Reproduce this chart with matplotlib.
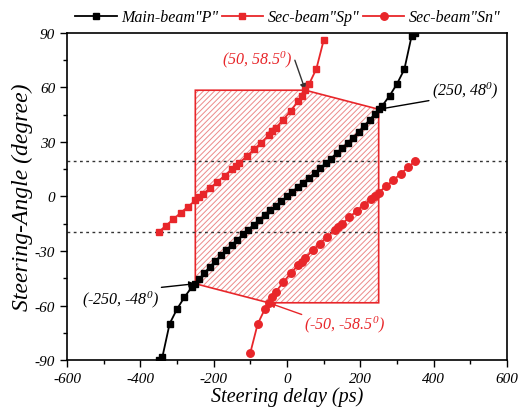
import matplotlib
matplotlib.use("Agg")
import matplotlib.pyplot as plt
from matplotlib.patches import Polygon

plt.rcParams['font.family'] = ['Liberation Serif', 'DejaVu Serif']
plt.rcParams['font.style'] = 'italic'
plt.rcParams['mathtext.fontset'] = 'custom'
plt.rcParams['mathtext.rm'] = 'Liberation Serif:italic'
plt.rcParams['mathtext.it'] = 'Liberation Serif:italic'
plt.rcParams['axes.unicode_minus'] = False
plt.rcParams['hatch.linewidth'] = 0.7

RED = '#e8262a'

# main beam "P"  (steering delay ps, steering angle deg)
p_delay = [-350, -340, -320, -300, -280, -260, -250, -240, -225, -210, -195, -180,
           -165, -150, -135, -120, -105, -90, -75, -60, -45, -30, -15, 0,
           15, 30, 45, 60, 75, 90, 105, 120, 135, 150, 165, 180, 195, 210, 225,
           240, 250, 260, 280, 300, 320, 340, 350]
p_angle = [-90, -88.5, -70, -62, -55.5, -50, -48, -45.6, -42.0, -38.7, -35.5, -32.4,
           -29.4, -26.5, -23.7, -20.9, -18.2, -15.5, -12.9, -10.3, -7.7, -5.1, -2.6, 0,
           2.6, 5.1, 7.7, 10.3, 12.9, 15.5, 18.2, 20.9, 23.7, 26.5, 29.4, 32.4, 35.5, 38.7, 42.0,
           45.6, 48, 50, 55.5, 62, 70, 88.5, 90]

# secondary beam "Sp"
sp_delay = [-350, -330, -310, -290, -270, -250, -240, -230, -210, -190, -170, -150,
            -140, -130, -110, -90, -70, -50, -40, -30, -10, 10, 30, 40, 50, 60, 80, 100]
sp_angle = [-19.6, -16.0, -12.5, -9.0, -5.6, -2.2, -0.5, 1.2, 4.6, 8.0, 11.5, 15.0,
            16.7, 18.5, 22.1, 25.9, 29.7, 33.7, 35.8, 37.9, 42.3, 47.1, 52.4, 55.3, 58.5, 61.8, 70.2, 86]

# secondary beam "Sn"
sn_delay = [-100, -80, -60, -50, -40, -30, -10, 10, 30, 40, 50, 70, 90, 110,
            130, 140, 150, 170, 190, 210, 230, 240, 250, 270, 290, 310, 330, 350]
sn_angle = [-86, -70.2, -61.8, -58.5, -55.3, -52.4, -47.1, -42.3, -37.9, -35.8, -33.7, -29.7, -25.9, -22.1,
            -18.5, -16.7, -15.0, -11.5, -8.0, -4.6, -1.2, 0.5, 2.2, 5.6, 9.0, 12.5, 16.0, 19.6]

# scan region corners
region_delay = [-250, 50, 250, 250, -50, -250]
region_angle = [58.5, 58.5, 48, -58.5, -58.5, -48]
limit_angle = 19.5

fig = plt.figure(figsize=(5.18, 4.14), dpi=100)
ax = fig.add_axes([0.1293, 0.128, 0.8495, 0.7899])

pts = list(zip(region_delay, region_angle))
ax.add_patch(Polygon(pts, closed=True, fill=False, hatch='//////', edgecolor='#ec8a8a',
                     linewidth=0, zorder=1))
ax.add_patch(Polygon(pts, closed=True, fill=False, edgecolor=RED, linewidth=1.2, zorder=2))

ax.axhline(limit_angle, color='#333333', linestyle=(0, (2, 2.5)), linewidth=1.0, zorder=2)
ax.axhline(-limit_angle, color='#333333', linestyle=(0, (2, 2.5)), linewidth=1.0, zorder=2)

ax.plot(p_delay, p_angle, color='black', marker='s', markersize=4.8, linewidth=1.3,
        label='Main-beam"P"', zorder=4)
ax.plot(sp_delay, sp_angle, color=RED, marker='s', markersize=4.8, linewidth=1.3,
        label='Sec-beam"Sp"', zorder=4)
ax.plot(sn_delay, sn_angle, color=RED, marker='o', markersize=5.4, linewidth=1.3,
        label='Sec-beam"Sn"', zorder=4)

ann = dict(fontsize=11.5)
ax.annotate(r'(50, 58.5$^{0}$)', xy=(50, 58.5), xytext=(-82, 76), color=RED, ha='center',
            va='center', arrowprops=dict(arrowstyle='-|>', color='#333333', lw=1.0,
                                         shrinkA=0, shrinkB=0, mutation_scale=9,
                                         relpos=(1.0, 0.8)), **ann)
ax.annotate(r'(250, 48$^{0}$)', xy=(250, 48), xytext=(485, 59), color='black', ha='center',
            va='center', arrowprops=dict(arrowstyle='-|>', color='black', lw=1.0,
                                         shrinkA=0, shrinkB=0, mutation_scale=9,
                                         relpos=(0.05, 0.0)), **ann)
ax.annotate(r'(-250, -48$^{0}$)', xy=(-250, -48), xytext=(-455, -56.5), color='black',
            ha='center', va='center',
            arrowprops=dict(arrowstyle='-|>', color='black', lw=1.0, shrinkA=0, shrinkB=0,
                            mutation_scale=9, relpos=(0.85, 1.0)), **ann)
ax.annotate(r'(-50, -58.5$^{0}$)', xy=(-50, -58.5), xytext=(158, -70), color=RED,
            ha='center', va='center',
            arrowprops=dict(arrowstyle='-|>', color=RED, lw=1.0, shrinkA=0, shrinkB=0,
                            mutation_scale=9, relpos=(0.0, 0.9)), **ann)

ax.set_xlim(-600, 600)
ax.set_ylim(-90, 90)
ax.set_xticks(range(-600, 601, 200))
ax.set_xticks(range(-500, 601, 200), minor=True)
ax.set_yticks(range(-90, 91, 30))
ax.set_yticks(range(-75, 91, 30), minor=True)
ax.tick_params(which='major', direction='out', length=5, width=1, labelsize=11)
ax.tick_params(which='minor', direction='out', length=3, width=1)
for s in ax.spines.values():
    s.set_linewidth(1.2)

ax.set_xlabel('Steering delay (ps)', fontsize=14.5, labelpad=1)
ax.set_ylabel('Steering-Angle (degree)', fontsize=17, labelpad=1)

fig.legend(loc='upper center', bbox_to_anchor=(0.556, 1.01), ncol=3, frameon=False,
           fontsize=11.5, handlelength=2.6, columnspacing=0.2, handletextpad=0.3)

fig.savefig('out.png', dpi=100)
